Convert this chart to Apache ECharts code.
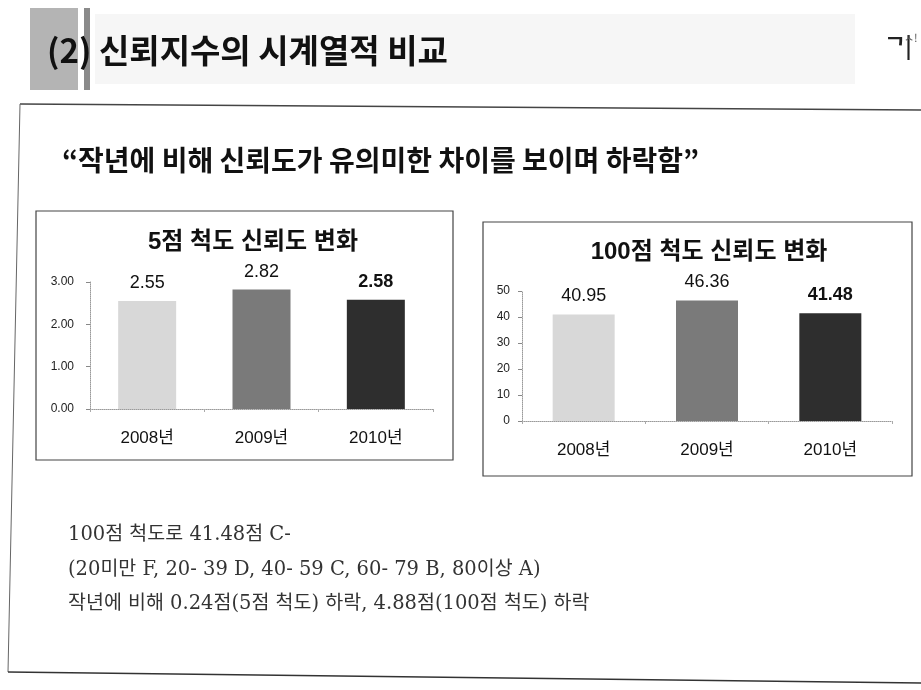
<!DOCTYPE html>
<html><head><meta charset="utf-8">
<script src="https://cdn.jsdelivr.net/npm/echarts@6/dist/echarts.min.js"></script>
<style>html,body{margin:0;padding:0;background:#fff}#c{width:921px;height:690px}</style>
</head><body><div id="c"></div>
<script>
// ---- data ----
const categories = ['2008년', '2009년', '2010년'];
const scale5Values = [2.55, 2.82, 2.58];
const scale100Values = [40.95, 46.36, 41.48];
const scale5Axis = { min: 0, max: 3, interval: 1 };
const scale100Axis = { min: 0, max: 50, interval: 10 };
const barColors = ['#d8d8d8', '#7a7a7a', '#2e2e2e'];
const highlightIndex = 2;
const pageTitle = '(2) 신뢰지수의 시계열적 비교';
const subtitle = '“작년에 비해 신뢰도가 유의미한 차이를 보이며 하락함”';
const chartTitles = ['5점 척도 신뢰도 변화', '100점 척도 신뢰도 변화'];
const notes = [
  '100점 척도로 41.48점 C-',
  '(20미만 F, 20- 39 D, 40- 59 C, 60- 79 B, 80이상 A)',
  '작년에 비해 0.24점(5점 척도) 하락, 4.88점(100점 척도) 하락'
];

// ---- chart ----
const SANS = '"Liberation Sans", "Noto Sans CJK KR", sans-serif';
const SERIF = '"DejaVu Serif", "Noto Sans CJK KR", serif';
const chart = echarts.init(document.getElementById('c'), null, { renderer: 'canvas' });

function barData(vals) {
  return vals.map((v, i) => ({
    value: v,
    itemStyle: { color: barColors[i] },
    label: { fontWeight: i === highlightIndex ? 'bold' : 'normal' }
  }));
}

const axisLineStyle = { color: '#9a9a9a', type: 'dotted', width: 1 };

function yAxisCfg(gi, ax, fmt, margin) {
  return {
    type: 'value', gridIndex: gi, min: ax.min, max: ax.max, interval: ax.interval,
    axisLine: { show: true, lineStyle: axisLineStyle },
    axisTick: { show: true, length: 4, lineStyle: { color: '#888' } },
    splitLine: { show: false },
    axisLabel: { formatter: fmt, fontSize: 12, color: '#222', fontFamily: SANS, margin: margin }
  };
}
function xAxisCfg(gi, margin) {
  return {
    type: 'category', gridIndex: gi, data: categories,
    axisLine: { show: true, lineStyle: axisLineStyle },
    axisTick: { show: true, length: 3, lineStyle: { color: '#aaa' } },
    axisLabel: { fontSize: 17, color: '#111', fontFamily: SANS, margin: margin }
  };
}
const labelCfg = { show: true, position: 'top', distance: 9, fontSize: 18, color: '#111', fontFamily: SANS,
  formatter: p => p.value.toFixed(2) };

const option = {
  animation: false,
  backgroundColor: '#ffffff',
  grid: [
    { left: 90, right: 488, top: 282, bottom: 281 },
    { left: 522, right: 29, top: 291, bottom: 269 }
  ],
  xAxis: [xAxisCfg(0, 21), xAxisCfg(1, 21)],
  yAxis: [
    yAxisCfg(0, scale5Axis, v => v.toFixed(2), 16),
    yAxisCfg(1, scale100Axis, v => String(v), 12)
  ],
  series: [
    { type: 'bar', xAxisIndex: 0, yAxisIndex: 0, barWidth: 58, data: barData(scale5Values), label: labelCfg },
    { type: 'bar', xAxisIndex: 1, yAxisIndex: 1, barWidth: 62, data: barData(scale100Values), label: labelCfg }
  ],
  graphic: [
    // header decoration
    { type: 'rect', shape: { x: 30, y: 8, width: 48, height: 82 }, style: { fill: '#b4b4b4' }, z: 1 },
    { type: 'rect', shape: { x: 84, y: 8, width: 6, height: 82 }, style: { fill: '#8a8a8a' }, z: 1 },
    { type: 'rect', shape: { x: 95, y: 14, width: 760, height: 70 }, style: { fill: '#f6f6f6' }, z: 0 },
    { type: 'text', x: 47, y: 50, style: { text: pageTitle, font: 'bold 33px "Noto Sans CJK KR", sans-serif',
        fill: '#111', textVerticalAlign: 'middle' }, z: 5 },
    { type: 'text', x: 885, y: 46, style: { text: 'ᄀ|', font: 'bold 22px "Noto Sans CJK KR", sans-serif',
        fill: '#222', textVerticalAlign: 'middle' }, z: 5 },
    { type: 'text', x: 904, y: 38, style: { text: 'ㅅ!', font: '11px "Noto Sans CJK KR", sans-serif',
        fill: '#555', textVerticalAlign: 'middle' }, z: 5 },
    // main frame
    { type: 'line', shape: { x1: 20, y1: 104, x2: 921, y2: 110 }, style: { stroke: '#444', lineWidth: 1.5 } },
    { type: 'line', shape: { x1: 20, y1: 104, x2: 8, y2: 672 }, style: { stroke: '#666', lineWidth: 1 } },
    { type: 'line', shape: { x1: 8, y1: 672, x2: 921, y2: 683 }, style: { stroke: '#333', lineWidth: 1.5 } },
    // subtitle
    { type: 'text', x: 62, y: 160, style: { text: subtitle, font: 'bold 28px "Noto Sans CJK KR", sans-serif',
        fill: '#111', textVerticalAlign: 'middle' } },
    // chart boxes
    { type: 'rect', shape: { x: 36, y: 211, width: 417, height: 249 }, style: { fill: null, stroke: '#444', lineWidth: 1.2 } },
    { type: 'rect', shape: { x: 483, y: 222, width: 429, height: 254 }, style: { fill: null, stroke: '#444', lineWidth: 1.2 } },
    { type: 'text', x: 253, y: 242, style: { text: chartTitles[0], font: 'bold 24px ' + SANS,
        fill: '#111', textAlign: 'center', textVerticalAlign: 'middle' } },
    { type: 'text', x: 709, y: 252, style: { text: chartTitles[1], font: 'bold 24px ' + SANS,
        fill: '#111', textAlign: 'center', textVerticalAlign: 'middle' } },
    // notes
    { type: 'text', x: 68, y: 535, style: { text: notes[0], font: '19.5px ' + SERIF, fill: '#333', textVerticalAlign: 'middle' } },
    { type: 'text', x: 68, y: 570, style: { text: notes[1], font: '19.5px ' + SERIF, fill: '#333', textVerticalAlign: 'middle' } },
    { type: 'text', x: 68, y: 604, style: { text: notes[2], font: '19.5px ' + SERIF, fill: '#333', textVerticalAlign: 'middle' } }
  ]
};
chart.setOption(option);
</script>
</body></html>
